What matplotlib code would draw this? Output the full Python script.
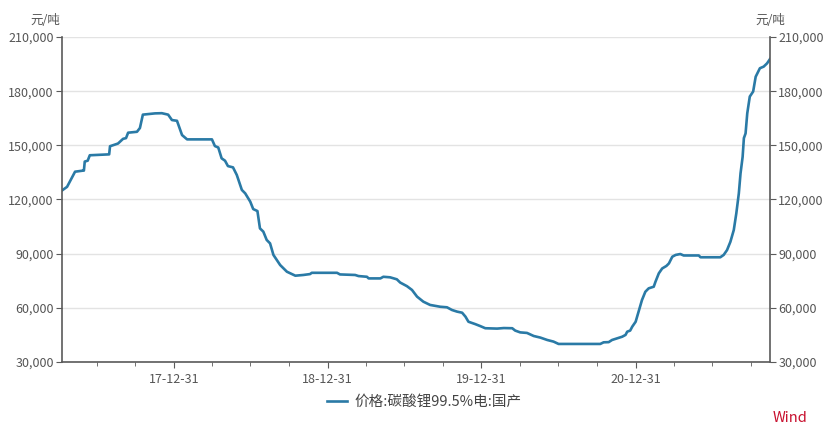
import numpy as np
import pandas as pd
import matplotlib
matplotlib.use('Agg')
import matplotlib.pyplot as plt
import matplotlib.dates as mdates
from matplotlib.ticker import FuncFormatter, FixedLocator

plt.rcParams['font.family'] = ['Noto Sans CJK SC', 'DejaVu Sans']

# price of battery grade lithium carbonate, yuan / ton
dates = ['2017-04-09', '2017-04-21', '2017-05-10', '2017-05-29', '2017-05-31', '2017-06-02',
         '2017-06-09', '2017-06-14', '2017-07-30', '2017-08-01', '2017-08-20', '2017-09-01',
         '2017-09-08', '2017-09-13', '2017-10-04', '2017-10-11', '2017-10-18', '2017-11-16',
         '2017-12-02', '2017-12-17', '2017-12-26', '2018-01-07', '2018-01-19', '2018-01-31',
         '2018-03-31', '2018-04-07', '2018-04-15', '2018-04-23', '2018-05-01', '2018-05-08',
         '2018-05-20', '2018-05-29', '2018-06-10', '2018-06-18', '2018-06-30', '2018-07-07',
         '2018-07-17', '2018-07-23', '2018-07-31', '2018-08-08', '2018-08-16', '2018-08-24',
         '2018-09-09', '2018-09-25', '2018-10-15', '2018-11-03', '2018-11-19', '2018-11-23',
         '2019-01-22', '2019-01-29', '2019-03-06', '2019-03-14', '2019-04-03', '2019-04-07',
         '2019-05-05', '2019-05-12', '2019-05-28', '2019-06-13', '2019-06-21', '2019-07-07',
         '2019-07-19', '2019-07-31', '2019-08-15', '2019-08-31', '2019-09-24', '2019-10-10',
         '2019-10-22', '2019-11-03', '2019-11-15', '2019-11-23', '2019-11-30', '2019-12-16',
         '2019-12-28', '2020-01-09', '2020-02-06', '2020-02-22', '2020-03-13', '2020-03-20',
         '2020-04-01', '2020-04-17', '2020-05-03', '2020-05-19', '2020-06-04', '2020-06-19',
         '2020-07-01', '2020-10-08', '2020-10-16', '2020-10-28', '2020-11-05', '2020-11-17',
         '2020-11-29', '2020-12-07', '2020-12-11', '2020-12-18', '2020-12-23', '2020-12-31',
         '2021-01-07', '2021-01-15', '2021-01-23', '2021-01-31', '2021-02-12', '2021-02-16',
         '2021-02-24', '2021-03-04', '2021-03-14', '2021-03-20', '2021-03-28', '2021-04-05',
         '2021-04-16', '2021-04-24', '2021-05-30', '2021-06-03', '2021-07-20', '2021-07-28',
         '2021-08-05', '2021-08-13', '2021-08-21', '2021-08-27', '2021-09-02', '2021-09-06',
         '2021-09-11', '2021-09-14', '2021-09-18', '2021-09-22', '2021-09-28', '2021-10-06',
         '2021-10-12', '2021-10-22', '2021-10-31', '2021-11-08', '2021-11-15']
price = [125000, 127000, 135400, 136000, 136000, 141000,
         141500, 144500, 145000, 149500, 151000, 153600,
         154000, 157000, 157500, 159600, 167000, 167700,
         167800, 167000, 164000, 163600, 155700, 153300,
         153300, 149600, 148800, 142800, 141500, 138500,
         137800, 133600, 125300, 123400, 118800, 114700,
         113600, 104000, 102200, 97600, 95700, 89300,
         83700, 80000, 77800, 78200, 78700, 79400,
         79400, 78500, 78200, 77600, 77200, 76300,
         76300, 77200, 76900, 75800, 74000, 72000,
         69900, 66200, 63400, 61600, 60600, 60300,
         58800, 57900, 57300, 55100, 52300, 51000,
         49900, 48700, 48500, 48800, 48700, 47400,
         46400, 46100, 44400, 43500, 42200, 41300,
         40000, 40000, 40900, 41000, 42200, 43100,
         44000, 45000, 46800, 47400, 49600, 52300,
         57900, 64300, 68900, 70800, 71700, 74400,
         79100, 81800, 83200, 84600, 88300, 89300,
         89800, 89000, 89000, 88000, 88000, 89300,
         92000, 96600, 103100, 112300, 123400, 134400,
         143600, 154000, 156600, 167700, 177000, 179800,
         188000, 192700, 193600, 195400, 197800]
series_name = '价格:碳酸锂99.5%电:国产'
unit = '元/吨'
year_ticks = ['2017-12-31', '2018-12-31', '2019-12-31', '2020-12-31']
y_ticks = [30000, 60000, 90000, 120000, 150000, 180000, 210000]

x = pd.to_datetime(dates)

fig = plt.figure(figsize=(8.3, 4.33), dpi=100)
ax = fig.add_axes([62/830, 1-362/433, (770-62)/830, (362-37)/433])

ax.plot(x, price, color='#2a7aa6', lw=1.9, solid_joinstyle='round')

ax.set_xlim(x[0], x[-1])
ax.set_ylim(30000, 210000)
ax.set_yticks(y_ticks)
ax.yaxis.set_major_formatter(FuncFormatter(lambda v, p: f'{int(v):,}'))
ax.grid(axis='y', color='#e3e3e3', lw=1)
ax.set_axisbelow(True)

ax.xaxis.set_major_locator(FixedLocator(mdates.date2num(pd.to_datetime(year_ticks))))
ax.xaxis.set_major_formatter(mdates.DateFormatter('%y-%m-%d'))
quarters = pd.date_range('2017-06-30', '2021-09-30', freq='QE')
ax.xaxis.set_minor_locator(FixedLocator(mdates.date2num(quarters)))

grey = '#5a5a5a'
ax.spines['top'].set_visible(False)
for s in ['left', 'right', 'bottom']:
    ax.spines[s].set_color(grey)
    ax.spines[s].set_linewidth(1.2)

ax.tick_params(axis='y', which='both', left=True, right=True, labelleft=True, labelright=True,
               length=4, color=grey, labelcolor='#555555', labelsize=9, pad=2)
ax.tick_params(axis='x', which='major', length=4, color=grey, labelcolor='#555555', labelsize=9, pad=4)
ax.tick_params(axis='x', which='minor', length=3, color=grey)

fig.text(60/830, 1-20/433, unit, ha='right', va='center', fontsize=9, color='#555555')
fig.text(770/830, 1-20/433, unit, ha='center', va='center', fontsize=9, color='#555555')

fig.legend(handles=ax.lines, labels=[series_name], loc='center', bbox_to_anchor=(424/830, 1-402/433),
           frameon=False, fontsize=10.5, labelcolor='#444444', handlelength=1.4, handletextpad=0.5)
fig.text(790/830, 1-418/433, 'Wind', ha='center', va='center', fontsize=10.5, color='#c8102e')

fig.savefig('out.png', dpi=100)
